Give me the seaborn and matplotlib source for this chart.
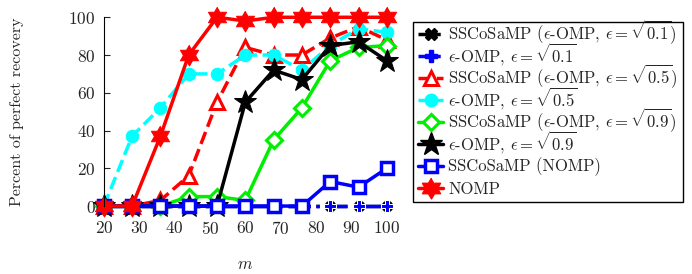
import numpy as np
import matplotlib
matplotlib.use("Agg")
import matplotlib.pyplot as plt
import seaborn as sns
from matplotlib.path import Path
from matplotlib.patches import Rectangle
from matplotlib.lines import Line2D

# データ
m = [20, 28, 36, 44, 52, 60, 68, 76, 84, 92, 100]
ss_eps01 = [0, 0, 0, 0, 0, 0, 0, 0, 0, 0, 0]
eps01 = [0, 0, 0, 0, 0, 0, 0, 0, 0, 0, 0]
ss_eps05 = [0, 0, 3, 16, 55, 84, 80, 80, 89, 95, 88]
eps05 = [0, 37, 52, 70, 70, 80, 80, 72, 85, 94, 92]
ss_eps09 = [0, 0, 0, 5, 5, 3, 35, 52, 77, 84, 85]
eps09 = [0, 0, 0, 0, 0, 55, 72, 67, 85, 87, 77]
ss_nomp = [0, 0, 0, 0, 0, 0, 0, 0, 13, 10, 20]
nomp = [0, 0, 37, 80, 100, 98, 100, 100, 100, 100, 100]

labels = [r'SSCoSaMP ($\epsilon$-OMP, $\epsilon=\sqrt{0.1}$)',
          r'$\epsilon$-OMP, $\epsilon=\sqrt{0.1}$',
          r'SSCoSaMP ($\epsilon$-OMP, $\epsilon=\sqrt{0.5}$)',
          r'$\epsilon$-OMP, $\epsilon=\sqrt{0.5}$',
          r'SSCoSaMP ($\epsilon$-OMP, $\epsilon=\sqrt{0.9}$)',
          r'$\epsilon$-OMP, $\epsilon=\sqrt{0.9}$',
          'SSCoSaMP (NOMP)',
          'NOMP']

# 六芒星マーカー
ang = np.pi / 2 + np.arange(12) * np.pi / 6
rad = np.where(np.arange(12) % 2 == 0, 1.0, 0.58)
hexagram = Path(np.column_stack([rad * np.cos(ang), rad * np.sin(ang)]))

sns.set_style('white')
plt.rcParams['font.family'] = 'cmr10'
plt.rcParams['mathtext.fontset'] = 'cm'
plt.rcParams['axes.formatter.use_mathtext'] = True

styles = [
    dict(color='black', marker='X', linestyle='-.', markersize=8, lw=2.5),
    dict(color='blue', marker='P', linestyle='-.', markersize=8, lw=2.5),
    dict(color='red', marker='^', linestyle='--', markersize=10, lw=2.5,
         markerfacecolor='white', markeredgecolor='red', markeredgewidth=2.2),
    dict(color='cyan', marker='o', linestyle='--', markersize=9, lw=2.5,
         markerfacecolor='cyan', markeredgecolor='cyan'),
    dict(color='#00ee00', marker='D', linestyle='-', markersize=8, lw=2.5,
         markerfacecolor='white', markeredgecolor='#00ee00', markeredgewidth=2.2),
    dict(color='black', marker='*', linestyle='-', markersize=17, lw=2.5,
         markerfacecolor='black', markeredgecolor='black'),
    dict(color='blue', marker='s', linestyle='-', markersize=9, lw=2.5,
         markerfacecolor='white', markeredgecolor='blue', markeredgewidth=2.5),
    dict(color='red', marker=hexagram, linestyle='-', markersize=15, lw=2.5,
         markerfacecolor='red', markeredgecolor='red'),
]
series = [ss_eps01, eps01, ss_eps05, eps05, ss_eps09, eps09, ss_nomp, nomp]

W, H = 692, 274
fig = plt.figure(figsize=(W / 100, H / 100), dpi=100)
ax = fig.add_axes([0.150, 0.248, 0.409, 0.689])

for vals, lab, st in zip(series, labels, styles):
    sns.lineplot(x=m, y=vals, ax=ax, label=lab)
    line = ax.lines[-1]
    line.set(**st)
    line.set_clip_on(False)

ax.set_xlim(20, 100)
ax.set_ylim(0, 100)
ax.set_xticks([20, 30, 40, 50, 60, 70, 80, 90, 100])
ax.set_yticks([0, 20, 40, 60, 80, 100])
for s in ['top', 'right', 'bottom']:
    ax.spines[s].set_visible(False)
ax.spines['left'].set_color('black')
ax.tick_params(axis='y', direction='in', length=4, labelsize=12.5, pad=6, left=True)
ax.tick_params(axis='x', length=0, labelsize=12.5, pad=10)
ax.set_xlabel(r'$m$', fontsize=12, labelpad=14)
ax.set_ylabel('Percent of perfect recovery', fontsize=11.5, labelpad=32)
ax.get_legend().remove()

# 凡例（手置き、MATLAB風の枠）
fig.patches.append(Rectangle((413 / W, 1 - 202 / H), 270 / W, 180 / H,
                             transform=fig.transFigure, fill=False,
                             edgecolor='black', linewidth=1.0))
for i, (lab, st) in enumerate(zip(labels, styles)):
    yc = 33.5 + 22.1 * i
    fig.add_artist(Line2D([418 / W, 430.5 / W, 443 / W], [1 - yc / H] * 3,
                          transform=fig.transFigure, markevery=[1], **st))
    fig.text(448 / W, 1 - (yc + 5.5) / H, lab, fontsize=12, va='baseline', ha='left')

fig.savefig('out.png', dpi=100)
